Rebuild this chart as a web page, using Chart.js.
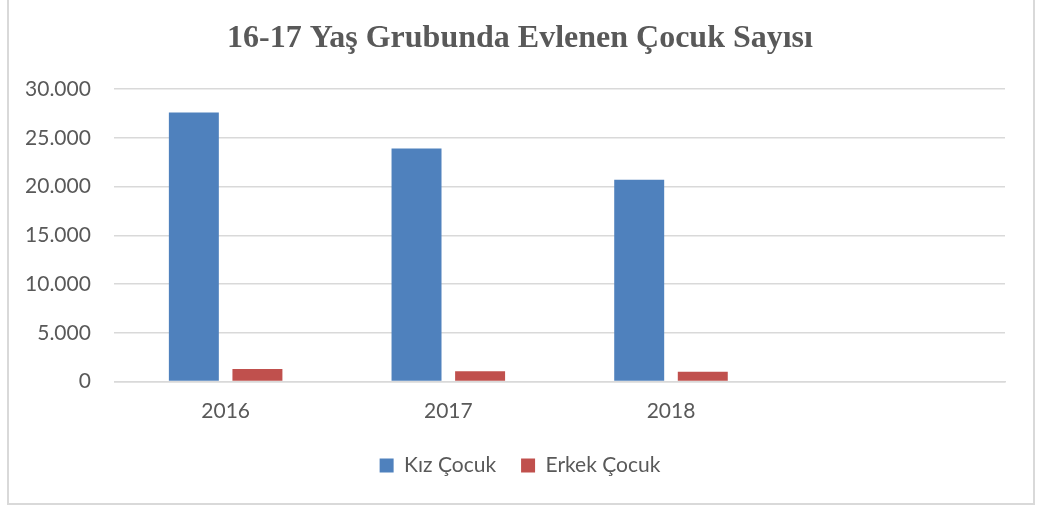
<!DOCTYPE html>
<html>
<head>
<meta charset="utf-8">
<script src="https://cdn.jsdelivr.net/npm/chart.js@4/dist/chart.umd.min.js"></script>
<style>
  html, body { margin: 0; padding: 0; background: #ffffff; overflow: hidden; }
  #wrap { position: relative; width: 1040px; height: 506px; }
  #frame { position: absolute; left: 7px; top: -10px; width: 1028px; height: 515px;
           box-sizing: border-box; border: 2px solid #d9d9d9; pointer-events: none; }
</style>
</head>
<body>
<div id="wrap">
  <canvas id="c" width="1040" height="506"></canvas>
  <div id="frame"></div>
</div>
<script>
const titleText = '16-17 Yaş Grubunda Evlenen Çocuk Sayısı';
const categories = ['2016', '2017', '2018', ''];
const seriesNames = ['Kız Çocuk', 'Erkek Çocuk'];
const kizCocuk = [27600, 23900, 20700, null];
const erkekCocuk = [1290, 1060, 990, null];
const yTicks = [0, 5000, 10000, 15000, 20000, 25000, 30000];

const textColor = '#595959';
const gridColor = '#d9d9d9';
const sansFont = 'Lato';

function fmt(v) {
  return String(v).replace(/\B(?=(\d{3})+(?!\d))/g, '.');
}

new Chart(document.getElementById('c'), {
  type: 'bar',
  data: {
    labels: categories,
    datasets: [
      { label: seriesNames[0], data: kizCocuk, backgroundColor: '#4f81bd', borderWidth: 0,
        barPercentage: 0.786, categoryPercentage: 0.571 },
      { label: seriesNames[1], data: erkekCocuk, backgroundColor: '#c0504d', borderWidth: 0,
        barPercentage: 0.786, categoryPercentage: 0.571 }
    ]
  },
  options: {
    responsive: false,
    animation: false,
    layout: { padding: { left: 0, right: 0, top: 0, bottom: 20 } },
    scales: {
      x: {
        grid: { display: false, drawTicks: false },
        border: { display: true, color: gridColor, width: 1.5 },
        ticks: { color: textColor, font: { family: sansFont, size: 21 }, padding: 16.9, maxRotation: 0 },
        afterFit(s) { s.height = 48.5; }
      },
      y: {
        min: yTicks[0],
        max: yTicks[yTicks.length - 1],
        afterBuildTicks(s) { s.ticks = yTicks.map(v => ({ value: v })); },
        grid: { color: gridColor, lineWidth: 1.5, drawTicks: false },
        border: { display: false },
        ticks: { color: textColor, font: { family: sansFont, size: 21 }, padding: 23.4,
                 callback: v => fmt(v) },
        afterFit(s) { s.width = 114.3; }
      },
      yR: {
        position: 'right',
        display: true,
        grid: { display: false, drawTicks: false },
        border: { display: false },
        ticks: { display: false },
        afterFit(s) { s.width = 35; }
      }
    },
    plugins: {
      title: {
        display: true,
        text: titleText,
        color: textColor,
        font: { family: 'Liberation Serif', size: 32, weight: 'bold', lineHeight: 1.2 },
        padding: { top: 19.3, bottom: 31.3 }
      },
      legend: {
        position: 'bottom',
        labels: {
          color: textColor,
          font: { family: sansFont, size: 21 },
          boxWidth: 14,
          boxHeight: 14,
          padding: 25
        }
      },
      tooltip: { enabled: false }
    }
  }
});
</script>
</body>
</html>
